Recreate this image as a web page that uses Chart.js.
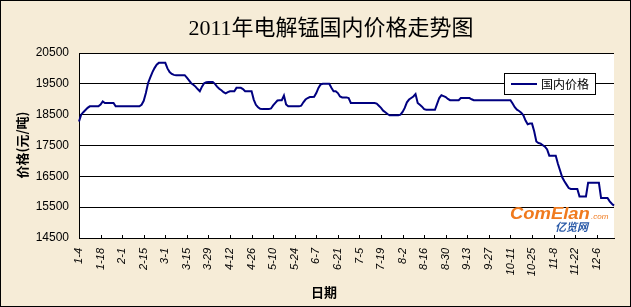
<!DOCTYPE html>
<html>
<head>
<meta charset="utf-8">
<script src="https://cdn.jsdelivr.net/npm/chart.js@4.4.0/dist/chart.umd.min.js"></script>
<style>
html, body { margin: 0; padding: 0; background: #f6ecd7; }
canvas { display: block; }
</style>
</head>
<body>
<canvas id="grafico" width="631" height="307"></canvas>
<script>
// rótulos do eixo x (um a cada 10 pregões)
const tickLabels = ['1-4', '1-18', '2-1', '2-15', '3-1', '3-15', '3-29', '4-12', '4-26', '5-10',
  '5-24', '6-7', '6-21', '7-5', '7-19', '8-2', '8-16', '8-30', '9-13', '9-27',
  '10-11', '10-25', '11-8', '11-22', '12-6'];

const yTicks = [14500, 15500, 16500, 17500, 18500, 19500, 20500];

// preço diário (元/吨)
const precos = [
  18280, 18500, 18580, 18650, 18720, 18770, 18770, 18770, 18770, 18770,
  18830, 18930, 18880, 18880, 18880, 18880, 18880, 18770, 18770, 18770,
  18770, 18770, 18770, 18770, 18770, 18770, 18770, 18770, 18770, 18820,
  18950, 19200, 19520, 19700, 19870, 20010, 20120, 20180, 20180, 20180,
  20180, 20000, 19880, 19820, 19790, 19780, 19780, 19780, 19780, 19780,
  19700, 19610, 19520, 19470, 19410, 19330, 19260, 19410, 19520, 19550,
  19560, 19560, 19560, 19500, 19410, 19340, 19290, 19230, 19190, 19230,
  19260, 19260, 19260, 19370, 19370, 19370, 19330, 19260, 19260, 19260,
  19260, 18990, 18820, 18740, 18690, 18680, 18680, 18680, 18680, 18700,
  18800, 18880, 18960, 18970, 18970, 19120, 18830, 18770, 18770, 18770,
  18770, 18770, 18770, 18790, 18900, 18990, 19040, 19070, 19070, 19080,
  19200, 19370, 19480, 19500, 19500, 19500, 19500, 19370, 19260, 19260,
  19200, 19090, 19060, 19060, 19060, 19040, 18880, 18880, 18880, 18880,
  18880, 18880, 18880, 18880, 18880, 18880, 18880, 18880, 18860, 18790,
  18720, 18630, 18580, 18520, 18480, 18480, 18480, 18480, 18480, 18500,
  18590, 18720, 18900, 18990, 19040, 19090, 19170, 18880, 18820, 18760,
  18680, 18660, 18660, 18660, 18660, 18660, 18850, 19040, 19130, 19100,
  19070, 19010, 18970, 18970, 18970, 18970, 18970, 19040, 19040, 19040,
  19040, 19040, 19000, 18970, 18970, 18970, 18970, 18970, 18970, 18970,
  18970, 18970, 18970, 18970, 18970, 18970, 18970, 18970, 18970, 18970,
  18970, 18860, 18740, 18660, 18620, 18560, 18480, 18310, 18190, 18210,
  18210, 17960, 17630, 17580, 17560, 17510, 17460, 17370, 17170, 17170,
  17170, 17170, 16910, 16690, 16470, 16340, 16230, 16120, 16090, 16090,
  16090, 16090, 15850, 15850, 15850, 15850, 16290, 16290, 16290, 16290,
  16290, 16290, 15800, 15800, 15800, 15800, 15690, 15610, 15550
];

const categorias = precos.map((_, i) => i % 10 === 0 ? tickLabels[i / 10] : '');

const decoracao = {
  id: 'decoracao',
  beforeDraw(chart) {
    const { ctx, chartArea: a } = chart;
    ctx.save();
    ctx.fillStyle = '#f6ecd7';
    ctx.fillRect(0, 0, chart.width, chart.height);
    ctx.fillStyle = '#ffffff';
    ctx.fillRect(a.left, a.top, a.right - a.left, a.bottom - a.top);
    ctx.restore();
  },
  beforeDatasetsDraw(chart) {
    // marca d'água
    const ctx = chart.ctx;
    ctx.save();
    ctx.translate(510, 219);
    ctx.scale(1.15, 1);
    ctx.fillStyle = '#f07a1e';
    ctx.font = 'italic bold 16px "Liberation Sans"';
    ctx.textBaseline = 'alphabetic';
    ctx.fillText('ComElan', 0, 0);
    const w = ctx.measureText('ComElan').width;
    ctx.font = 'italic 7px "Liberation Sans"';
    ctx.fillText('.com', w + 1, 0);
    ctx.restore();
    ctx.save();
    ctx.fillStyle = '#2a5aa8';
    ctx.font = 'italic bold 11px "Noto Sans CJK SC"';
    ctx.fillText('亿览网', 555, 231);
    ctx.restore();
  },
  afterDraw(chart) {
    const { ctx, chartArea: a } = chart;
    const xs = chart.scales.x;
    ctx.save();
    // marcas de tick para dentro
    ctx.strokeStyle = '#000';
    ctx.lineWidth = 1;
    ctx.beginPath();
    tickLabels.forEach((_, k) => {
      const x = Math.round(xs.getPixelForValue(k * 10)) + 0.5;
      ctx.moveTo(x, a.bottom);
      ctx.lineTo(x, a.bottom - 3);
    });
    ctx.stroke();

    // título
    ctx.fillStyle = '#000';
    ctx.textAlign = 'center';
    ctx.textBaseline = 'middle';
    ctx.font = '22px "Liberation Serif", "Noto Sans CJK SC"';
    ctx.fillText('2011年电解锰国内价格走势图', 331, 29);

    // títulos dos eixos
    ctx.font = 'bold 13px "Noto Sans CJK SC"';
    ctx.fillText('日期', 324, 292);
    ctx.save();
    ctx.translate(22, 145);
    ctx.rotate(-Math.PI / 2);
    ctx.fillText('价格(元/吨)', 0, 0);
    ctx.restore();

    // legenda
    ctx.fillStyle = '#fff';
    ctx.fillRect(504, 73, 91, 21);
    ctx.strokeStyle = '#000';
    ctx.strokeRect(504.5, 73.5, 91, 21);
    ctx.strokeStyle = '#000080';
    ctx.lineWidth = 2;
    ctx.beginPath();
    ctx.moveTo(511, 84);
    ctx.lineTo(537, 84);
    ctx.stroke();
    ctx.fillStyle = '#000';
    ctx.textAlign = 'left';
    ctx.font = '12px "Noto Sans CJK SC"';
    ctx.fillText('国内价格', 541, 84);

    // moldura
    ctx.strokeStyle = '#000';
    ctx.lineWidth = 1;
    ctx.strokeRect(0.5, 0.5, chart.width - 1, chart.height - 1);
    ctx.restore();
  }
};

const ctx = document.getElementById('grafico').getContext('2d');
const grafico = new Chart(ctx, {
  type: 'line',
  data: {
    labels: categorias,
    datasets: [{
      label: '国内价格',
      data: precos,
      borderColor: '#000080',
      borderWidth: 2,
      pointRadius: 0,
      fill: false,
      tension: 0
    }]
  },
  options: {
    responsive: false,
    animation: false,
    layout: { padding: { top: 53, right: 17, left: 0, bottom: 0 } },
    plugins: { legend: { display: false }, tooltip: { enabled: false } },
    scales: {
      x: {
        offset: false,
        afterFit: s => { s.height = 69; },
        grid: { display: true, drawOnChartArea: false, drawTicks: false },
        border: { display: true, color: '#000', width: 1 },
        ticks: {
          autoSkip: false,
          minRotation: 90,
          maxRotation: 90,
          padding: 10,
          color: '#000',
          font: { family: '"Liberation Sans"', size: 11, style: 'italic' },
          callback: (v, i) => categorias[i] !== '' ? categorias[i] : null
        }
      },
      y: {
        min: yTicks[0],
        max: yTicks[yTicks.length - 1],
        afterFit: s => { s.width = 79; },
        afterBuildTicks: s => { s.ticks = yTicks.map(v => ({ value: v })); },
        grid: { color: '#000', lineWidth: 1, drawTicks: false },
        border: { color: '#000', width: 1 },
        ticks: {
          padding: 10,
          color: '#000',
          font: { family: '"Liberation Sans"', size: 12 },
          callback: v => String(v)
        }
      }
    }
  },
  plugins: [decoracao]
});
</script>
</body>
</html>
